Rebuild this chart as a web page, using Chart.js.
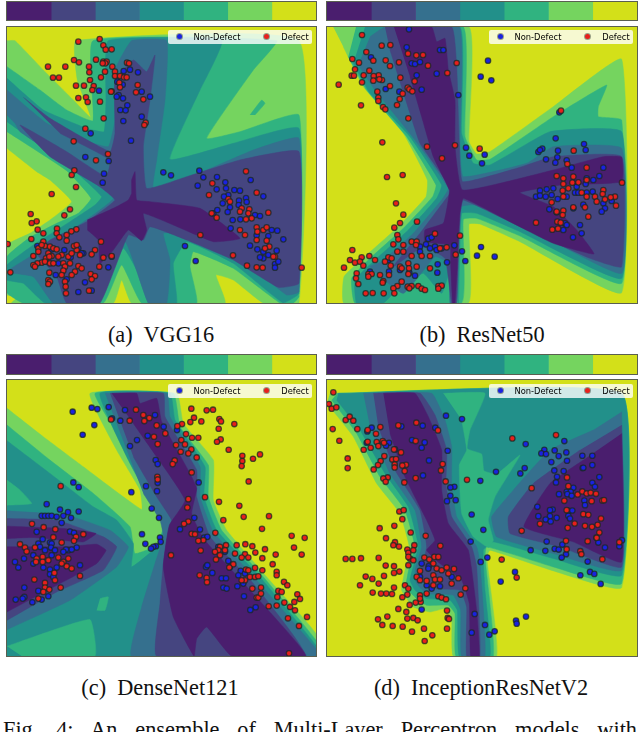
<!DOCTYPE html>
<html>
<head>
<meta charset="utf-8">
<title>Fig. 4</title>
<script src="https://cdn.jsdelivr.net/npm/chart.js@4"></script>
<style>
  html, body { margin: 0; padding: 0; background: #fff; }
  body { position: relative; width: 640px; height: 732px; overflow: hidden; }
  .box { position: absolute; box-sizing: border-box; border: 1px solid #5a5f50; filter: blur(0.45px); }
  .box canvas { display: block; }
  .legend { position: absolute; width: 144px; height: 14px; background: rgba(255,255,255,0.8); border-radius: 2px;
    font: 8.3px/14px "DejaVu Sans", sans-serif; color: #000; filter: blur(0.25px); }
  .legend span { position: absolute; top: 0; white-space: nowrap; transform: translateX(-50%); }
  .legend i { position: absolute; top: 4px; width: 5px; height: 5px; border-radius: 50%; box-shadow: 0 0 0 1px rgba(40,50,40,.45); }
  .caption { position: absolute; font: 22.3px "Liberation Serif", "Times New Roman", serif; color: #111; white-space: pre;
    transform: translateX(-50%); }
  #fig { position: absolute; left: 3px; top: 717px; width: 634px; font: 22.3px "Liberation Serif", serif; color: #111;
    text-align: justify; text-align-last: justify; white-space: normal; }
</style>
</head>
<body>
<div class="box" style="left:6px;top:1px;width:311px;height:20px"><canvas id="barA"></canvas></div>
<div class="box" style="left:326px;top:1px;width:312px;height:20px"><canvas id="barB"></canvas></div>
<div class="box" style="left:6px;top:354px;width:311px;height:21px"><canvas id="barC"></canvas></div>
<div class="box" style="left:326px;top:354px;width:312px;height:21px"><canvas id="barD"></canvas></div>
<div class="box" style="left:6px;top:26px;width:311px;height:278px"><canvas id="plotA"></canvas></div>
<div class="box" style="left:326px;top:26px;width:312px;height:278px"><canvas id="plotB"></canvas></div>
<div class="box" style="left:6px;top:379px;width:311px;height:278px"><canvas id="plotC"></canvas></div>
<div class="box" style="left:326px;top:379px;width:312px;height:278px"><canvas id="plotD"></canvas></div>

<div class="legend" style="left:168px;top:30px"><i style="left:8.5px;background:#1a22e0"></i><span style="left:49px">Non-Defect</span><i style="left:95.5px;background:#e8201c"></i><span style="left:127px">Defect</span></div>
<div class="legend" style="left:489px;top:30px"><i style="left:8.5px;background:#1a22e0"></i><span style="left:49px">Non-Defect</span><i style="left:95.5px;background:#e8201c"></i><span style="left:127px">Defect</span></div>
<div class="legend" style="left:168px;top:384px"><i style="left:8.5px;background:#1a22e0"></i><span style="left:49px">Non-Defect</span><i style="left:95.5px;background:#e8201c"></i><span style="left:127px">Defect</span></div>
<div class="legend" style="left:489px;top:384px"><i style="left:8.5px;background:#1a22e0"></i><span style="left:49px">Non-Defect</span><i style="left:95.5px;background:#e8201c"></i><span style="left:127px">Defect</span></div>

<div class="caption" style="left:161px;top:322px">(a)  VGG16</div>
<div class="caption" style="left:482px;top:322px">(b)  ResNet50</div>
<div class="caption" style="left:160px;top:675px">(c)  DenseNet121</div>
<div class="caption" style="left:481px;top:675px">(d)  InceptionResNetV2</div>
<div id="fig">Fig. 4: An ensemble of Multi-Layer Perceptron models with</div>

<script>
// colour levels of the contour, dark to light, same for the colorbars
var levelColors = ["#4a1e6e", "#454580", "#35708e", "#22908a", "#30b380", "#75d45f", "#d3e019"];
var colorbarSteps = [1, 1, 1, 1, 1, 1, 1];

// ---- (a) VGG16 ----
var vggFrame = [[0,0],[1000,0],[1000,1000],[0,1000]];
var vggLevel5 = [[21,122],[45,122],[130,210],[220,300],[272,352],[232,240],[228,122],[897,122],[897,909],[790,909],[700,840],[648,825],[675,909],[395,909],[365,840],[340,909],[35,909],[60,885],[21,885],[21,735],[90,700],[150,660],[215,605],[150,540],[110,515],[21,445]];
var vggLevel4 = [[21,200],[120,270],[200,330],[279,362],[279,122],[830,122],[760,210],[620,415],[720,395],[897,345],[897,890],[880,909],[840,909],[700,805],[580,755],[570,800],[590,909],[425,909],[365,795],[310,909],[70,909],[21,878],[21,770],[90,712],[170,670],[235,640],[273,595],[200,512],[21,395]];
var vggPatch4 = [[750,345],[785,300],[795,310],[765,345]];
var vggLevel3 = [[21,235],[130,330],[260,385],[312,395],[318,300],[325,122],[665,122],[600,270],[510,478],[700,430],[897,385],[897,880],[850,909],[700,790],[560,725],[520,790],[530,909],[465,909],[370,745],[290,909],[135,909],[70,850],[21,840],[21,795],[100,735],[210,665],[285,615],[305,590],[215,505],[21,365]];
var vggLevel2 = [[21,270],[140,370],[250,420],[325,440],[345,360],[345,210],[395,122],[500,122],[495,300],[470,480],[460,570],[620,510],[760,450],[897,415],[897,875],[860,885],[720,775],[540,700],[490,700],[510,780],[500,909],[445,909],[375,725],[270,909],[160,909],[100,830],[21,815],[90,770],[230,680],[300,630],[340,595],[230,510],[60,395],[45,370],[21,345]];
var vggLevel1 = [[70,292],[150,355],[330,455],[345,400],[345,240],[400,180],[440,215],[465,165],[450,300],[430,440],[440,565],[560,530],[720,480],[897,455],[897,850],[835,862],[700,780],[560,720],[450,680],[430,720],[385,705],[300,909],[200,909],[170,830],[110,760],[150,720],[260,665],[345,600],[300,560],[150,470],[60,375],[200,455],[318,530],[330,480],[180,400]];
var vggLevel0 = [[262,660],[340,625],[385,600],[395,580],[395,540],[405,515],[410,600],[450,605],[600,625],[720,715],[640,725],[520,675],[430,640],[440,690],[425,722],[385,690],[340,750],[300,790],[295,720],[262,690]];
var vggDefect = [[235,125],[299,117],[310,136],[317,149],[335,148],[288,179],[222,180],[237,187],[144,200],[196,200],[267,200],[268,217],[159,233],[177,233],[270,240],[228,257],[252,257],[281,258],[277,270],[235,294],[258,292],[263,306],[300,305],[311,355],[256,386],[221,424],[324,462],[288,481],[223,511],[215,525],[228,561],[155,582],[210,628],[92,642],[110,664],[95,669],[193,646],[113,689],[130,700],[171,686],[229,688],[214,694],[170,700],[178,712],[200,705],[94,717],[23,732],[31,817],[310,185],[320,185],[316,190],[308,190],[381,188],[387,190],[337,200],[345,215],[315,215],[303,232],[345,228],[360,228],[372,232],[380,232],[358,248],[360,262],[335,274],[333,275],[413,255],[408,277],[430,298],[437,368],[433,375],[601,705],[738,514],[637,550],[627,585],[770,578],[685,597],[690,605],[725,625],[748,628],[720,635],[745,640],[635,640],[650,653],[720,690],[770,682],[772,695],[790,690],[800,682],[735,705],[770,720],[805,638],[755,655],[738,658],[800,722],[808,740],[825,770],[795,745],[699,766],[741,797],[770,802],[788,803],[905,803],[820,770],[303,725],[285,750],[275,763],[310,773],[335,768],[298,800],[272,822],[285,828],[275,838],[267,872],[130,725],[115,745],[135,738],[150,740],[160,745],[170,748],[100,768],[145,760],[155,768],[138,775],[125,788],[112,790],[100,795],[105,800],[135,785],[150,790],[185,765],[205,770],[230,750],[240,765],[222,738],[200,722],[160,790],[190,790],[195,800],[210,790],[235,798],[245,805],[225,815],[215,825],[190,812],[185,825],[148,818],[145,840],[150,845],[195,845],[197,860],[198,880],[145,852],[115,755],[175,770],[215,760],[148,770],[125,735],[230,735]];
var vggNonDefect = [[371,213],[390,209],[414,217],[352,245],[368,254],[297,272],[425,275],[450,290],[356,285],[350,290],[369,295],[382,316],[361,330],[377,331],[425,350],[370,363],[272,400],[393,422],[256,471],[326,483],[312,521],[308,548],[490,517],[513,526],[598,512],[610,532],[593,557],[651,531],[676,547],[650,568],[678,565],[752,540],[703,570],[720,572],[790,589],[685,585],[672,590],[738,594],[668,610],[740,606],[717,602],[690,622],[716,615],[683,636],[640,640],[652,630],[765,645],[780,648],[698,660],[721,658],[692,685],[815,690],[832,692],[770,706],[850,718],[805,708],[750,737],[772,748],[790,755],[830,752],[805,765],[790,775],[780,772],[825,792],[835,785],[825,803],[555,738],[587,783],[235,876],[255,847],[325,802],[275,872],[335,770],[250,760],[235,745],[212,772],[193,750],[155,748],[112,738],[175,790],[167,825],[200,838],[245,760]];

// ---- (b) ResNet50 ----
var resFrame = [[0,0],[1000,0],[1000,1000],[0,1000]];
var resLevel5 = [[40,81],[447,81],[447,425],[470,462],[510,455],[700,320],[905,178],[905,878],[600,725],[480,672],[447,672],[445,909],[72,909],[72,830],[140,765],[235,680],[318,590],[322,540],[250,400],[130,260],[70,140]];
var resLevel4 = [[108,81],[430,81],[435,410],[470,480],[510,478],[700,350],[860,255],[835,320],[835,350],[905,360],[905,850],[600,708],[470,655],[430,658],[425,909],[105,909],[95,835],[150,775],[250,685],[338,590],[348,555],[260,410],[140,270],[85,170]];
var resLevel3 = [[135,81],[420,81],[425,400],[460,490],[510,495],[690,395],[905,395],[905,835],[600,695],[470,640],[425,640],[415,909],[395,800],[365,880],[310,820],[240,860],[190,909],[110,909],[105,840],[165,780],[265,690],[350,595],[365,555],[270,410],[150,280],[100,190]];
var resLevel2 = [[150,110],[195,81],[418,81],[420,440],[430,530],[620,490],[700,440],[905,445],[905,820],[600,670],[470,615],[425,620],[405,909],[390,909],[385,790],[345,770],[250,880],[150,800],[185,785],[280,700],[365,600],[385,565],[285,420],[165,270],[115,195]];
var resLevel1 = [[195,81],[395,81],[410,200],[418,430],[428,545],[590,505],[700,470],[905,470],[905,800],[810,775],[600,680],[430,600],[420,640],[415,780],[410,909],[395,909],[375,775],[310,740],[220,800],[300,700],[375,600],[395,570],[300,430],[270,340],[210,150]];
var resLevel0 = [[222,81],[335,81],[350,125],[375,115],[385,210],[405,300],[405,440],[428,570],[700,510],[850,470],[905,472],[905,545],[720,555],[600,578],[700,620],[770,690],[822,762],[700,730],[560,660],[430,595],[420,640],[415,720],[412,800],[405,909],[398,909],[392,790],[390,735],[315,725],[315,690],[370,670],[385,600],[388,570],[340,470],[305,350],[270,230]];
var resDefect = [[126,105],[185,137],[211,135],[139,156],[264,161],[289,166],[309,165],[97,177],[117,188],[160,182],[197,181],[237,187],[324,197],[410,189],[210,198],[105,208],[148,212],[382,219],[95,227],[102,227],[131,226],[176,226],[161,228],[186,240],[160,242],[178,238],[241,233],[284,244],[56,254],[126,247],[210,258],[263,263],[268,268],[277,274],[172,275],[248,281],[175,293],[239,297],[175,303],[123,316],[231,315],[189,321],[196,328],[265,355],[723,332],[187,427],[321,440],[405,436],[479,446],[366,475],[761,452],[742,492],[201,531],[248,525],[800,503],[710,528],[906,548],[730,535],[760,530],[730,552],[757,548],[775,547],[800,540],[728,572],[745,565],[730,590],[785,578],[800,590],[850,570],[848,582],[825,590],[855,598],[885,590],[872,592],[830,605],[888,617],[695,607],[228,610],[250,644],[240,669],[291,665],[223,683],[710,635],[730,632],[760,622],[795,622],[728,645],[805,650],[648,668],[712,665],[722,668],[697,689],[714,686],[232,705],[345,701],[420,707],[275,725],[290,725],[288,735],[250,735],[220,733],[235,718],[97,750],[407,764],[250,755],[232,755],[275,768],[305,768],[330,768],[380,742],[360,745],[125,772],[148,768],[90,780],[105,788],[120,785],[72,803],[165,780],[205,772],[215,775],[195,785],[212,797],[130,797],[240,800],[265,790],[290,800],[330,805],[110,820],[145,822],[155,822],[108,835],[115,852],[145,830],[180,825],[207,825],[245,805],[267,805],[265,822],[190,843],[188,848],[232,858],[220,865],[245,845],[263,860],[275,858],[295,858],[305,866],[315,870],[137,880],[158,879],[191,880],[223,880],[355,858],[365,857],[355,866],[268,865]];
var resNonDefect = [[267,88],[260,142],[360,150],[370,150],[504,182],[153,172],[275,190],[285,192],[300,186],[350,221],[290,226],[482,230],[514,241],[238,275],[197,267],[305,269],[415,285],[718,337],[707,415],[792,432],[797,450],[655,456],[667,446],[660,450],[714,452],[438,443],[448,467],[494,464],[486,490],[678,478],[712,472],[706,488],[740,481],[755,503],[850,503],[838,528],[820,540],[800,535],[797,552],[770,560],[660,572],[680,568],[700,565],[648,590],[660,587],[677,590],[695,585],[713,597],[740,590],[765,578],[775,578],[800,578],[818,575],[850,610],[875,603],[855,625],[845,635],[790,614],[688,628],[760,625],[710,637],[735,670],[740,675],[730,690],[780,675],[785,700],[759,712],[325,716],[335,712],[318,733],[300,740],[403,736],[345,740],[350,750],[365,745],[330,745],[426,754],[483,741],[471,767],[524,770],[436,783],[381,787],[353,793],[300,755],[205,780],[150,815],[207,815],[285,827],[268,818],[352,818],[240,810]];

// ---- (c) DenseNet121 ----
var denseFrame = [[0,0],[1000,0],[1000,1000],[0,1000]];
var denseLevel5 = [[21,175],[130,260],[250,350],[425,478],[420,420],[350,300],[270,130],[530,130],[550,220],[640,330],[640,450],[680,540],[800,680],[948,850],[948,917],[21,917]];
var denseLevel4 = [[21,225],[150,330],[280,430],[390,530],[405,610],[470,585],[495,510],[440,430],[370,280],[285,130],[520,130],[540,230],[625,345],[625,440],[665,540],[790,680],[948,870],[948,917],[21,917]];
var denseLevel3 = [[21,272],[150,370],[280,470],[350,510],[400,580],[395,650],[470,590],[495,530],[460,470],[385,330],[300,130],[510,130],[525,210],[615,350],[612,440],[650,540],[780,680],[948,885],[948,917],[21,917]];
var densePatch4a = [[21,390],[60,420],[95,460],[21,465]];
var densePatch4b = [[300,745],[325,740],[315,780],[290,780]];
var densePatch4c = [[21,888],[100,860],[270,808],[285,917],[65,917]];
var denseLevel2a = [[21,482],[200,495],[330,540],[385,590],[350,650],[210,750],[21,838]];
var denseLevel2b = [[315,130],[500,130],[510,200],[600,350],[600,440],[640,545],[770,690],[948,895],[948,917],[395,917],[425,770],[465,640],[490,560],[480,510],[430,430]];
var denseLevel1a = [[21,505],[170,510],[310,560],[350,590],[310,660],[170,725],[21,810]];
var denseLevel1b = [[330,130],[490,130],[495,200],[590,360],[590,440],[630,560],[760,700],[915,917],[470,917],[480,760],[490,640],[505,540],[515,510],[470,440],[400,320]];
var denseLevel0a = [[21,528],[190,535],[288,550],[250,575],[100,562],[21,565]];
var denseLevel0b = [[21,590],[200,590],[290,582],[318,600],[290,640],[180,700],[21,785]];
var denseLevel0c = [[335,130],[410,130],[420,160],[470,145],[485,215],[570,370],[590,415],[575,490],[610,565],[750,720],[918,917],[695,917],[620,830],[590,865],[582,917],[520,800],[490,650],[508,525],[555,450],[470,320],[400,220]];
var denseDefect = [[574,176],[620,181],[639,179],[658,207],[663,214],[703,222],[582,203],[604,214],[571,216],[546,222],[532,228],[333,208],[389,212],[430,195],[408,179],[448,204],[433,213],[470,226],[656,236],[558,252],[576,263],[595,263],[662,268],[651,275],[462,260],[496,250],[544,270],[528,285],[555,283],[473,282],[686,299],[574,298],[542,305],[565,310],[590,322],[727,317],[727,333],[725,348],[780,313],[759,326],[524,331],[518,342],[575,367],[472,380],[473,388],[746,394],[182,408],[615,441],[565,447],[562,472],[657,455],[718,467],[731,500],[807,498],[670,510],[565,514],[552,521],[96,521],[131,531],[786,536],[166,537],[250,552],[646,548],[575,551],[585,552],[160,561],[228,560],[222,572],[875,557],[914,563],[610,570],[595,572],[60,582],[185,577],[882,592],[736,582],[757,588],[710,585],[678,585],[660,590],[795,597],[105,592],[75,592],[80,604],[655,600],[645,605],[905,613],[827,613],[602,601],[513,615],[766,607],[735,612],[725,622],[705,610],[675,600],[660,615],[648,628],[787,624],[745,622],[110,625],[128,620],[175,622],[205,625],[108,635],[128,635],[145,630],[190,635],[200,648],[185,640],[818,642],[700,642],[688,652],[215,655],[163,668],[738,658],[765,653],[787,660],[745,660],[830,665],[830,675],[750,680],[735,690],[725,690],[765,680],[775,678],[240,677],[165,690],[599,675],[620,683],[621,696],[103,688],[135,698],[135,712],[783,712],[852,695],[862,705],[182,712],[130,725],[148,718],[757,715],[835,722],[845,725],[892,732],[900,746],[832,740],[770,742],[775,742],[783,730],[115,745],[883,755],[853,757],[870,770],[885,780],[806,768],[830,766],[921,800],[864,804],[897,827],[867,909]];
var denseNonDefect = [[218,185],[275,173],[292,177],[326,171],[375,180],[336,205],[361,212],[465,195],[283,225],[491,230],[531,240],[248,254],[443,257],[411,270],[390,288],[467,330],[473,342],[220,397],[236,411],[438,408],[473,398],[596,397],[394,426],[471,423],[140,462],[455,475],[180,478],[204,486],[236,484],[125,497],[135,497],[145,497],[155,497],[170,500],[190,497],[213,503],[477,503],[583,503],[185,518],[540,537],[110,545],[600,538],[210,544],[222,548],[426,552],[480,562],[612,562],[128,567],[482,575],[115,580],[150,577],[155,580],[622,560],[436,581],[468,588],[460,590],[453,595],[655,590],[675,605],[120,590],[153,592],[135,600],[205,600],[230,592],[215,598],[198,598],[190,605],[165,600],[100,615],[72,625],[155,615],[45,635],[100,640],[55,652],[130,652],[150,658],[240,645],[170,652],[685,632],[690,650],[722,662],[715,675],[735,670],[618,650],[637,668],[150,672],[160,680],[665,684],[678,684],[730,700],[712,708],[73,712],[670,712],[680,715],[115,722],[73,740],[68,745],[47,748],[97,756],[125,748],[145,738],[732,738],[767,771],[751,779],[622,645]];

// ---- (d) InceptionResNetV2 ----
var incFrame = [[0,0],[1000,0],[1000,1000],[0,1000]];
var incLevel5 = [[30,130],[905,130],[905,712],[710,665],[510,600],[500,620],[530,917],[400,917],[395,800],[375,775],[330,785],[280,770],[245,720],[255,660],[270,600],[240,490],[170,400],[100,260],[21,160]];
var incLevel4 = [[52,130],[905,130],[905,700],[700,650],[500,590],[495,620],[520,917],[408,917],[405,790],[385,765],[320,765],[290,745],[258,710],[270,640],[285,590],[255,480],[180,380],[110,250],[35,150]];
var incLevel3 = [[55,130],[905,130],[905,675],[700,625],[520,575],[490,600],[495,720],[510,917],[418,917],[412,780],[390,750],[320,745],[285,720],[270,690],[285,630],[295,585],[265,470],[195,370],[120,240],[50,150]];
var incPatch4 = [[370,130],[495,130],[450,240],[442,296],[485,312],[492,362],[530,372],[600,315],[525,440],[505,510],[520,570],[505,592],[460,560],[425,490],[418,345],[440,300],[425,210]];
var incLevel2a = [[130,130],[335,130],[375,210],[395,290],[395,400],[410,500],[470,590],[480,640],[495,917],[425,917],[422,780],[400,735],[320,730],[290,700],[285,660],[305,590],[285,480],[210,370],[150,230]];
var incLevel2b = [[905,185],[905,660],[700,610],[530,560],[515,500],[580,420],[690,300],[820,240]];
var incLevel1a = [[160,130],[300,130],[345,195],[380,300],[378,400],[395,500],[455,590],[470,650],[480,917],[440,917],[440,770],[420,720],[330,715],[300,680],[320,590],[300,480],[225,360],[175,230]];
var incLevel1b = [[905,225],[905,650],[720,590],[570,550],[565,500],[640,400],[780,300]];
var incLevel0a = [[190,130],[285,130],[325,200],[365,300],[365,420],[385,520],[445,600],[470,780],[478,917],[452,917],[448,760],[425,690],[360,640],[320,600],[345,570],[320,510],[255,380],[210,250]];
var incLevel0b = [[905,250],[905,635],[760,575],[612,530],[690,400],[790,330]];
var incDefect = [[40,127],[27,162],[35,176],[49,172],[77,210],[89,200],[100,212],[112,237],[38,237],[58,272],[181,231],[143,240],[168,251],[235,226],[289,218],[354,241],[83,325],[83,354],[131,299],[143,275],[152,293],[170,276],[175,288],[188,273],[192,278],[193,318],[182,333],[174,345],[161,358],[217,328],[228,327],[224,343],[224,352],[258,344],[247,346],[243,307],[222,298],[287,273],[254,363],[368,342],[363,361],[287,384],[203,382],[190,385],[197,395],[253,397],[377,394],[441,389],[577,265],[708,255],[635,414],[741,382],[745,408],[773,433],[787,424],[800,430],[812,428],[828,431],[733,452],[815,453],[847,451],[852,450],[740,480],[790,492],[805,494],[764,520],[843,505],[660,521],[238,484],[251,480],[247,507],[223,527],[179,534],[272,547],[198,564],[317,557],[605,542],[743,533],[795,527],[816,530],[833,524],[838,547],[829,562],[803,573],[738,572],[830,563],[898,576],[361,587],[237,589],[225,576],[220,585],[283,585],[262,598],[265,608],[781,603],[784,612],[740,597],[77,626],[97,626],[123,624],[176,623],[280,600],[270,625],[265,620],[313,622],[343,620],[355,620],[545,628],[847,627],[197,646],[222,648],[265,645],[280,630],[328,628],[340,640],[350,655],[365,660],[380,652],[402,656],[238,664],[222,668],[300,662],[340,675],[385,670],[137,679],[157,686],[192,677],[590,682],[176,700],[120,705],[290,680],[300,690],[320,692],[345,688],[360,688],[415,684],[395,700],[222,712],[255,705],[265,715],[158,727],[183,730],[199,730],[216,731],[262,733],[247,741],[340,705],[320,730],[300,735],[355,738],[365,742],[378,747],[422,733],[436,714],[302,755],[287,757],[269,764],[235,776],[259,785],[381,781],[174,807],[202,799],[262,805],[280,803],[293,810],[383,803],[387,806],[187,824],[218,827],[248,829],[276,844],[312,835],[381,835],[337,855],[314,872],[300,745]];
var incNonDefect = [[378,197],[426,207],[244,229],[308,227],[346,233],[155,233],[142,244],[276,270],[314,277],[305,293],[140,278],[207,278],[198,287],[225,298],[383,302],[327,331],[528,365],[481,392],[309,376],[614,354],[601,370],[617,282],[733,273],[673,299],[664,310],[678,312],[704,301],[739,307],[716,318],[741,332],[694,336],[787,317],[817,317],[817,345],[788,354],[790,353],[703,361],[731,363],[711,380],[708,397],[838,381],[817,398],[825,410],[403,410],[391,412],[391,437],[381,453],[407,450],[760,413],[740,425],[752,425],[742,432],[755,437],[717,432],[793,451],[795,465],[652,470],[698,478],[690,480],[655,498],[690,498],[710,503],[677,508],[692,514],[745,482],[757,481],[745,497],[750,505],[455,493],[490,539],[452,574],[680,574],[632,600],[676,602],[704,596],[716,598],[727,583],[738,612],[725,622],[835,577],[855,592],[898,588],[906,570],[803,634],[482,635],[502,622],[326,648],[305,640],[325,655],[395,680],[300,680],[320,705],[585,665],[542,694],[781,675],[810,665],[823,671],[842,701],[360,708],[335,715],[464,791],[618,799],[588,811],[590,820],[495,824],[524,843],[508,853],[455,847],[305,778]];

var pointBorder = "rgba(25,40,35,0.75)";

// one filled polygon of a contour band, drawn by the filler plugin
function contourDataset(points, level) {
  return {
    data: points,
    showLine: true,
    fill: "shape",
    tension: 0.12,
    backgroundColor: levelColors[level],
    borderColor: levelColors[level],
    borderWidth: 0.5,
    pointRadius: 0,
  };
}

function pointDataset(label, points, color) {
  return {
    label: label,
    data: points,
    showLine: false,
    clip: false,
    pointRadius: 2.7,
    pointBorderWidth: 1.3,
    pointBackgroundColor: color,
    pointBorderColor: pointBorder,
  };
}

function drawPlot(id, width, height, xRange, yRange, contours, nonDefect, defect) {
  var canvas = document.getElementById(id);
  canvas.width = width;
  canvas.height = height;
  var sets = contours.concat([
    pointDataset("Non-Defect", nonDefect, "#1a22e0"),
    pointDataset("Defect", defect, "#e8201c"),
  ]);
  // later sets go on top
  sets.forEach(function (set, i) {
    set.order = sets.length - i;
  });
  new Chart(canvas, {
    type: "scatter",
    data: { datasets: sets },
    options: {
      responsive: false,
      animation: false,
      layout: { padding: 0, autoPadding: false },
      plugins: { legend: { display: false }, tooltip: { enabled: false } },
      scales: {
        x: { type: "linear", display: false, min: xRange[0], max: xRange[1] },
        y: { type: "linear", display: false, min: yRange[0], max: yRange[1], reverse: true },
      },
    },
  });
}

function drawColorbar(id, width, height) {
  var canvas = document.getElementById(id);
  canvas.width = width;
  canvas.height = height;
  new Chart(canvas, {
    type: "bar",
    data: {
      labels: [""],
      datasets: colorbarSteps.map(function (step, i) {
        return {
          data: [step],
          backgroundColor: levelColors[i],
          barPercentage: 1,
          categoryPercentage: 1,
        };
      }),
    },
    options: {
      indexAxis: "y",
      responsive: false,
      animation: false,
      layout: { padding: 0, autoPadding: false },
      plugins: { legend: { display: false }, tooltip: { enabled: false } },
      scales: {
        x: { stacked: true, display: false, min: 0, max: colorbarSteps.length },
        y: { stacked: true, display: false },
      },
    },
  });
}

drawColorbar("barA", 309, 18);
drawColorbar("barB", 310, 18);
drawColorbar("barC", 309, 19);
drawColorbar("barD", 310, 19);

drawPlot("plotA", 309, 276, [21, 948], [81, 909], [
  contourDataset(vggFrame, 6), contourDataset(vggLevel5, 5), contourDataset(vggPatch4, 4),
  contourDataset(vggLevel4, 4), contourDataset(vggLevel3, 3), contourDataset(vggLevel2, 2),
  contourDataset(vggLevel1, 1), contourDataset(vggLevel0, 0),
], vggNonDefect, vggDefect);

drawPlot("plotB", 310, 276, [21, 951], [81, 909], [
  contourDataset(resFrame, 6), contourDataset(resLevel5, 5), contourDataset(resLevel4, 4),
  contourDataset(resLevel3, 3), contourDataset(resLevel2, 2), contourDataset(resLevel1, 1),
  contourDataset(resLevel0, 0),
], resNonDefect, resDefect);

drawPlot("plotC", 309, 276, [21, 948], [90, 917], [
  contourDataset(denseFrame, 6), contourDataset(denseLevel5, 5), contourDataset(denseLevel4, 4),
  contourDataset(denseLevel3, 3), contourDataset(densePatch4a, 4), contourDataset(densePatch4b, 4),
  contourDataset(densePatch4c, 4), contourDataset(denseLevel2a, 2), contourDataset(denseLevel2b, 2),
  contourDataset(denseLevel1a, 1), contourDataset(denseLevel1b, 1), contourDataset(denseLevel0a, 0),
  contourDataset(denseLevel0b, 0), contourDataset(denseLevel0c, 0),
], denseNonDefect, denseDefect);

drawPlot("plotD", 310, 276, [21, 951], [90, 917], [
  contourDataset(incFrame, 6), contourDataset(incLevel5, 5), contourDataset(incLevel4, 4),
  contourDataset(incLevel3, 3), contourDataset(incPatch4, 4), contourDataset(incLevel2a, 2),
  contourDataset(incLevel2b, 2), contourDataset(incLevel1a, 1), contourDataset(incLevel1b, 1),
  contourDataset(incLevel0a, 0), contourDataset(incLevel0b, 0),
], incNonDefect, incDefect);
</script>
</body>
</html>
